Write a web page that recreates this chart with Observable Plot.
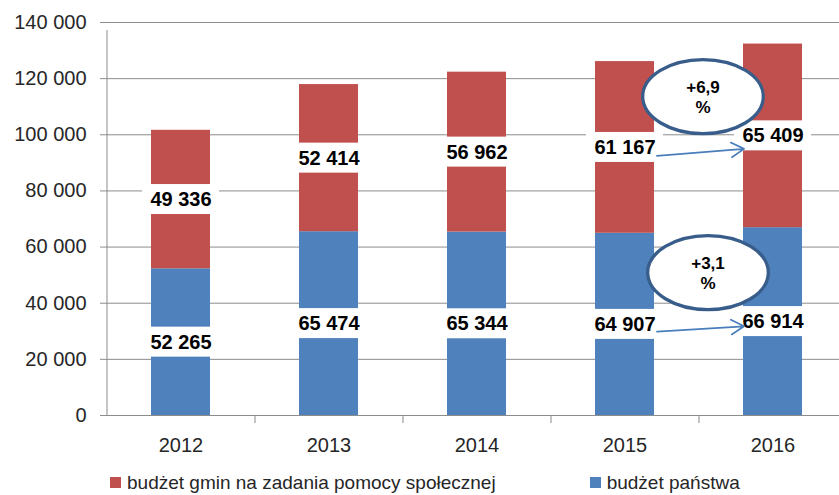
<!DOCTYPE html>
<html><head><meta charset="utf-8">
<script src="https://cdn.jsdelivr.net/npm/d3@7"></script>
<script src="https://cdn.jsdelivr.net/npm/@observablehq/plot@0.6"></script>
<style>
body{margin:0;background:#fff;font-family:"Liberation Sans",Arial,sans-serif;}
#legend{display:flex;height:25px;align-items:center;padding-left:110px;font-size:19px;color:#262626;gap:94px}
.item{display:flex;align-items:center}
.sw{width:11px;height:11px;margin-right:6px}
</style></head><body>
<div id="chart"></div>
<div id="legend"></div>
<script>
const years = ["2012", "2013", "2014", "2015", "2016"];
const budzetPanstwa = [52265, 65474, 65344, 64907, 66914];
const budzetGmin = [49336, 52414, 56962, 61167, 65409];
const seriesNames = ["budżet gmin na zadania pomocy społecznej", "budżet państwa"];
const seriesColors = ["#C0504D", "#4F81BD"];
const yTicks = [0, 20000, 40000, 60000, 80000, 100000, 120000, 140000];
const changeLabels = ["+6,9\n%", "+3,1\n%"];
const changeY = [113600, 50900];
const changeOffset = [-70, -65];
const arrowFrom = ["2015", "2015"];
const arrowTo = ["2016", "2016"];
const arrowY1 = [91600, 29200];
const arrowY2 = [95800, 32400];

const fmt = d => d3.format(",")(d).replace(/,/g, " ");

const table = [
  ...years.map((year, i) => ({year, series: seriesNames[1], value: budzetPanstwa[i], mid: budzetPanstwa[i] / 2})),
  ...years.map((year, i) => ({year, series: seriesNames[0], value: budzetGmin[i], mid: budzetPanstwa[i] + budzetGmin[i] / 2}))
];
const changes = changeLabels.map((label, i) => ({label, y: changeY[i], dx: changeOffset[i]}));
const arrows = arrowFrom.map((from, i) => ({from, to: arrowTo[i], y1: arrowY1[i], y2: arrowY2[i]}));

const ellipse = {
  draw(ctx, size) {
    const r = Math.sqrt(size / Math.PI), ry = r, rx = r * 1.63, k = 0.5523;
    ctx.moveTo(rx, 0);
    ctx.bezierCurveTo(rx, ry * k, rx * k, ry, 0, ry);
    ctx.bezierCurveTo(-rx * k, ry, -rx, ry * k, -rx, 0);
    ctx.bezierCurveTo(-rx, -ry * k, -rx * k, -ry, 0, -ry);
    ctx.bezierCurveTo(rx * k, -ry, rx, -ry * k, rx, 0);
    ctx.closePath();
  }
};

const gridColor = "#8c8c8c";
const chart = Plot.plot({
  width: 839, height: 470,
  marginLeft: 107, marginRight: 0, marginTop: 22, marginBottom: 55,
  style: {fontFamily: "Liberation Sans, Arial, sans-serif", fontSize: "20px", color: "#262626", background: "white"},
  x: {domain: years, range: [107, 847], paddingInner: 0.6, paddingOuter: 0.3, tickSize: 0, tickPadding: 22, label: null},
  y: {domain: [0, 140000], ticks: yTicks, tickFormat: fmt, tickSize: 0, tickPadding: 21, label: null},
  color: {domain: seriesNames, range: seriesColors},
  marks: [
    Plot.ruleY(yTicks, {stroke: gridColor, insetLeft: -7}),
    Plot.barY(table, {x: "year", y: "value", fill: "series"}),
    Plot.ruleX(["2012"], {x: d => d, dx: -74, y1: 0, y2: 140000, insetBottom: -8, stroke: gridColor}),
    Plot.ruleX(years.slice(1), {x: d => d, dx: -74, y1: 0, y2: 0, insetBottom: -8, stroke: gridColor}),
    Plot.barY(table, {x: "year", y1: "mid", y2: "mid", fill: "white", insetTop: -15, insetBottom: -15, insetLeft: -9, insetRight: -9}),
    Plot.text(table, {x: "year", y: "mid", text: d => fmt(d.value), fontWeight: "bold", fontSize: 20, fill: "black"}),
    Plot.arrow(arrows, {x1: "from", x2: "to", y1: "y1", y2: "y2", stroke: "#4A7EBB", strokeWidth: 1.7, insetStart: 32, insetEnd: 29, headLength: 13}),
    Plot.dot(changes.slice(0, 1), {x: () => "2016", y: "y", dx: changeOffset[0], r: 37, symbol: ellipse, fill: "white", stroke: "#385D8A", strokeWidth: 3.3}),
    Plot.dot(changes.slice(1), {x: () => "2016", y: "y", dx: changeOffset[1], r: 37, symbol: ellipse, fill: "white", stroke: "#385D8A", strokeWidth: 3.3}),
    Plot.text(changes.slice(0, 1), {x: () => "2016", y: "y", dx: changeOffset[0], text: "label", fontWeight: "bold", fontSize: 17, fill: "black", lineHeight: 1.15}),
    Plot.text(changes.slice(1), {x: () => "2016", y: "y", dx: changeOffset[1], text: "label", fontWeight: "bold", fontSize: 17, fill: "black", lineHeight: 1.15})
  ]
});
document.getElementById("chart").appendChild(chart);

const legend = document.getElementById("legend");
seriesNames.forEach((name, i) => {
  const item = document.createElement("div");
  item.className = "item";
  const sw = document.createElement("span");
  sw.className = "sw";
  sw.style.background = seriesColors[i];
  const label = document.createElement("span");
  label.textContent = name;
  item.appendChild(sw);
  item.appendChild(label);
  legend.appendChild(item);
});
</script>
</body></html>
